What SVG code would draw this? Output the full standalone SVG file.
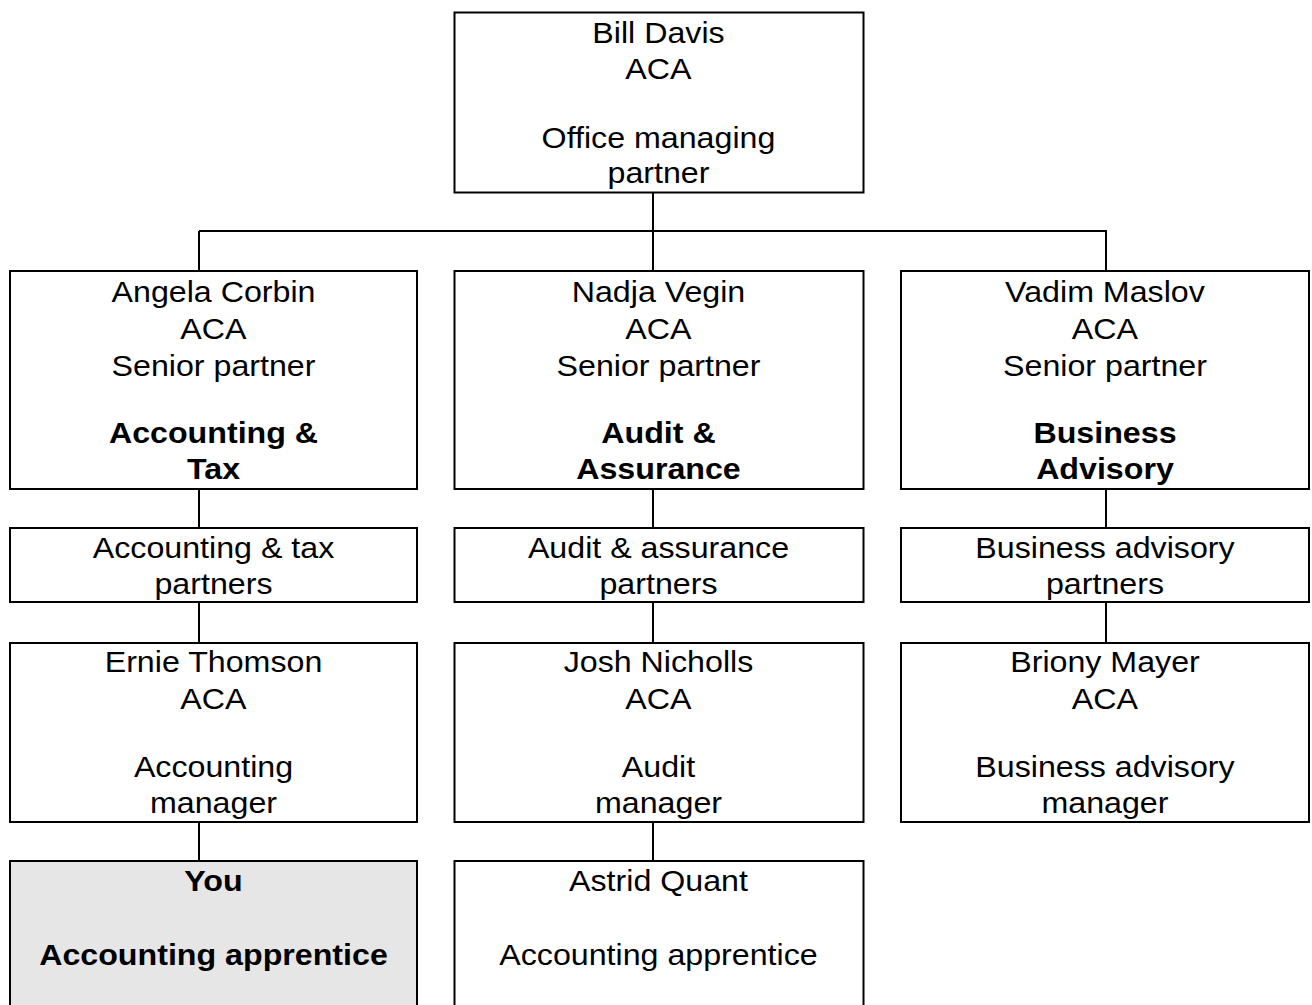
<svg xmlns="http://www.w3.org/2000/svg" width="1312" height="1005" viewBox="0 0 1312 1005">
<style>
rect.n{fill:#ffffff;stroke:#000;stroke-width:2}
rect.hl{fill:#e6e6e6;stroke:#000;stroke-width:2}
.c line{stroke:#000;stroke-width:2}
text{font-family:"Liberation Sans",Arial,sans-serif;font-size:29px;fill:#000;text-anchor:middle;transform-box:fill-box;transform-origin:center;transform:scaleX(1.11)}
</style>
<rect width="1312" height="1005" fill="#fff"/>
<g class="c" id="connectors">
<line x1="653" y1="193" x2="653" y2="271"/>
<line x1="199" y1="231" x2="1107" y2="231"/>
<line x1="199" y1="231" x2="199" y2="271"/>
<line x1="1106" y1="231" x2="1106" y2="271"/>
<line x1="199" y1="489" x2="199" y2="528"/>
<line x1="199" y1="602" x2="199" y2="643"/>
<line x1="199" y1="822" x2="199" y2="861"/>
<line x1="653" y1="489" x2="653" y2="528"/>
<line x1="653" y1="602" x2="653" y2="643"/>
<line x1="653" y1="822" x2="653" y2="861"/>
<line x1="1106" y1="489" x2="1106" y2="528"/>
<line x1="1106" y1="602" x2="1106" y2="643"/>
</g>
<g id="bill-davis">
<rect class="n" x="454.5" y="12.5" width="409" height="180"/>
<text x="658.5" y="43">Bill Davis</text>
<text x="658.5" y="79">ACA</text>
<text x="658.5" y="148">Office managing</text>
<text x="658.5" y="183">partner</text>
</g>
<g id="angela-corbin">
<rect class="n" x="10" y="271" width="407" height="218"/>
<text x="213.5" y="302">Angela Corbin</text>
<text x="213.5" y="339">ACA</text>
<text x="213.5" y="376">Senior partner</text>
<text x="213.5" y="443" font-weight="bold">Accounting &amp;</text>
<text x="213.5" y="479" font-weight="bold">Tax</text>
</g>
<g id="nadja-vegin">
<rect class="n" x="454.5" y="271" width="409" height="218"/>
<text x="658.5" y="302">Nadja Vegin</text>
<text x="658.5" y="339">ACA</text>
<text x="658.5" y="376">Senior partner</text>
<text x="658.5" y="443" font-weight="bold">Audit &amp;</text>
<text x="658.5" y="479" font-weight="bold">Assurance</text>
</g>
<g id="vadim-maslov">
<rect class="n" x="901" y="271" width="408" height="218"/>
<text x="1105" y="302">Vadim Maslov</text>
<text x="1105" y="339">ACA</text>
<text x="1105" y="376">Senior partner</text>
<text x="1105" y="443" font-weight="bold">Business</text>
<text x="1105" y="479" font-weight="bold">Advisory</text>
</g>
<g id="accounting-tax-partners">
<rect class="n" x="10" y="528" width="407" height="74"/>
<text x="213.5" y="558">Accounting &amp; tax</text>
<text x="213.5" y="594">partners</text>
</g>
<g id="audit-assurance-partners">
<rect class="n" x="454.5" y="528" width="409" height="74"/>
<text x="658.5" y="558">Audit &amp; assurance</text>
<text x="658.5" y="594">partners</text>
</g>
<g id="business-advisory-partners">
<rect class="n" x="901" y="528" width="408" height="74"/>
<text x="1105" y="558">Business advisory</text>
<text x="1105" y="594">partners</text>
</g>
<g id="ernie-thomson">
<rect class="n" x="10" y="643" width="407" height="179"/>
<text x="213.5" y="672">Ernie Thomson</text>
<text x="213.5" y="709">ACA</text>
<text x="213.5" y="777">Accounting</text>
<text x="213.5" y="813">manager</text>
</g>
<g id="josh-nicholls">
<rect class="n" x="454.5" y="643" width="409" height="179"/>
<text x="658.5" y="672">Josh Nicholls</text>
<text x="658.5" y="709">ACA</text>
<text x="658.5" y="777">Audit</text>
<text x="658.5" y="813">manager</text>
</g>
<g id="briony-mayer">
<rect class="n" x="901" y="643" width="408" height="179"/>
<text x="1105" y="672">Briony Mayer</text>
<text x="1105" y="709">ACA</text>
<text x="1105" y="777">Business advisory</text>
<text x="1105" y="813">manager</text>
</g>
<g id="you">
<rect class="hl" x="10" y="861" width="407" height="160"/>
<text x="213.5" y="891" font-weight="bold">You</text>
<text x="213.5" y="965" font-weight="bold">Accounting apprentice</text>
</g>
<g id="astrid-quant">
<rect class="n" x="454.5" y="861" width="409" height="160"/>
<text x="658.5" y="891">Astrid Quant</text>
<text x="658.5" y="965">Accounting apprentice</text>
</g>
</svg>
